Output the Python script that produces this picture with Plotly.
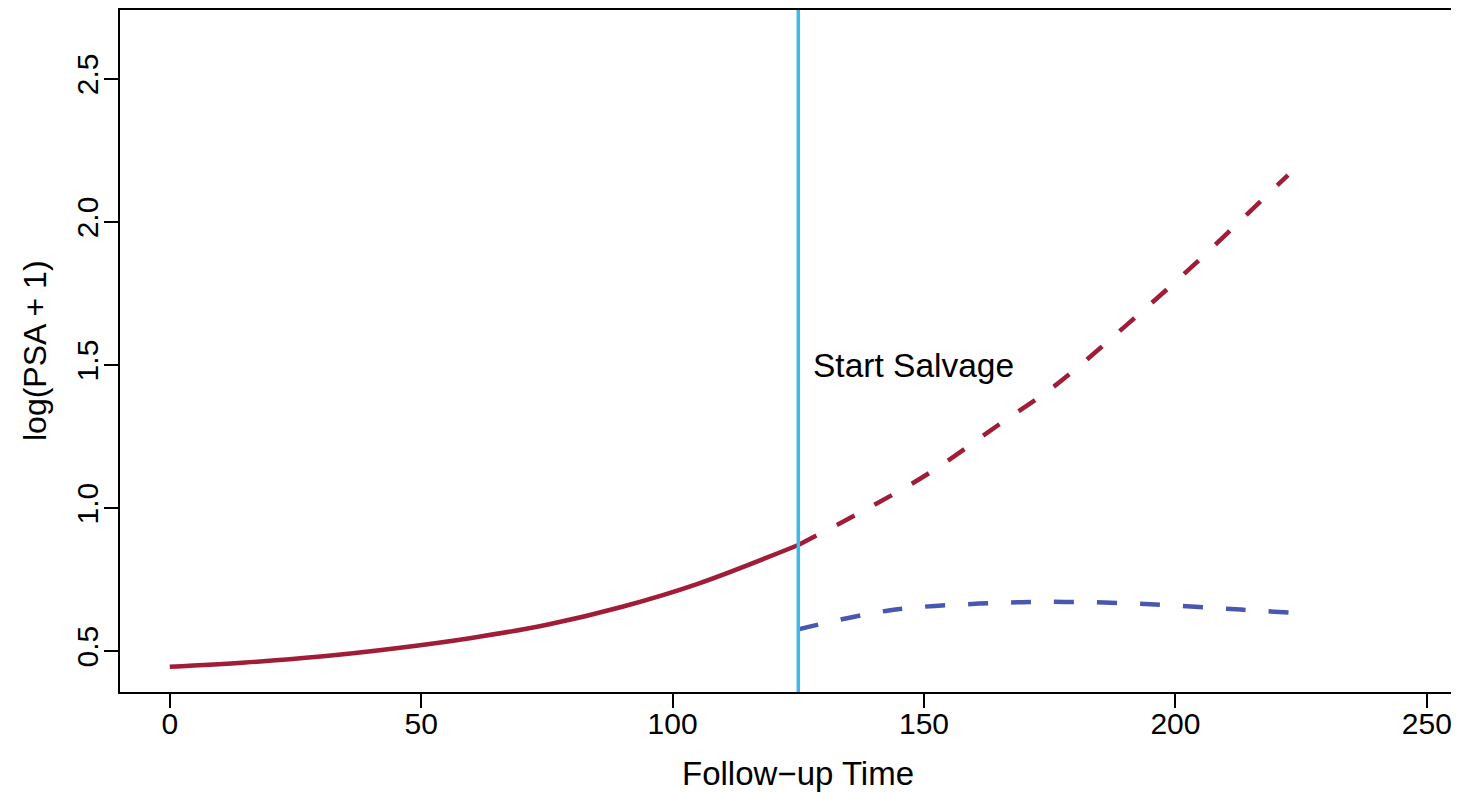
import plotly.graph_objects as go

# ---- data ----
pre_time = [0, 15, 30, 45, 60, 75, 90, 105, 125]
pre_psa = [0.445, 0.460, 0.481, 0.510, 0.546, 0.592, 0.655, 0.735, 0.871]

no_salvage_time = [125, 140, 151, 165, 176, 191, 204, 214, 222.4]
no_salvage_psa = [0.871, 1.010, 1.122, 1.293, 1.427, 1.651, 1.855, 2.023, 2.164]

salvage_time = [125, 143, 161, 178, 196, 213, 224]
salvage_psa = [0.576, 0.642, 0.666, 0.672, 0.663, 0.645, 0.633]

salvage_start = 125
annotation_text = "Start Salvage"
annotation_pos = (128.3, 1.5)

x_ticks = [0, 50, 100, 150, 200, 250]
y_ticks = [0.5, 1.0, 1.5, 2.0, 2.5]
x_range = [-9.9, 256.4]
y_range = [0.357, 2.741]
x_title_center = 125  # centre of the full (uncropped) x region

RED = "#A11C36"
BLUE = "#4857B0"
CYAN = "#3DBBE6"
FONT = "Liberation Sans, Arial, Helvetica, sans-serif"

fig = go.Figure()
fig.add_trace(go.Scatter(x=pre_time, y=pre_psa, mode="lines",
                         line=dict(color=RED, width=4.5, shape="spline"),
                         showlegend=False, hoverinfo="skip"))
fig.add_trace(go.Scatter(x=no_salvage_time, y=no_salvage_psa, mode="lines",
                         line=dict(color=RED, width=4.5, shape="spline", dash="20px,23px"),
                         showlegend=False, hoverinfo="skip"))
fig.add_trace(go.Scatter(x=salvage_time, y=salvage_psa, mode="lines",
                         line=dict(color=BLUE, width=4.5, shape="spline", dash="20px,23px"),
                         showlegend=False, hoverinfo="skip"))

fig.add_shape(type="line", xref="x", yref="paper", x0=salvage_start, x1=salvage_start,
              y0=0, y1=1, line=dict(color=CYAN, width=3.5), layer="above")

fig.add_annotation(x=annotation_pos[0], y=annotation_pos[1], text=annotation_text,
                   showarrow=False, xanchor="left", yanchor="middle", xshift=-4,
                   font=dict(family=FONT, size=33.5, color="black"))

# axis titles
fig.add_annotation(xref="x", yref="paper", x=x_title_center, y=0, yshift=-81,
                   text="Follow\u2212up Time", showarrow=False,
                   xanchor="center", yanchor="middle",
                   font=dict(family=FONT, size=33, color="black"))
fig.add_annotation(xref="paper", yref="paper", x=0, y=0.5, xshift=-85,
                   text="log(PSA + 1)", showarrow=False, textangle=-90,
                   xanchor="center", yanchor="middle",
                   font=dict(family=FONT, size=32, color="black"))

# page body has an 8px margin, so the figure is sized/margined to compensate
fig.update_layout(
    width=1451, height=785,
    margin=dict(l=112, r=0, t=2, b=101),
    paper_bgcolor="white", plot_bgcolor="white",
    font=dict(family=FONT, size=30, color="black"),
    showlegend=False,
)
fig.update_xaxes(range=x_range, tickvals=x_ticks, ticktext=[str(v) for v in x_ticks],
                 showgrid=False, zeroline=False, showline=True, linecolor="black",
                 linewidth=2, mirror=True, ticks="outside", ticklen=14, tickwidth=2,
                 tickcolor="black", tickfont=dict(size=30), automargin=False,
                 ticklabelstandoff=-10)
fig.update_yaxes(range=y_range, tickvals=y_ticks, ticktext=[f"{v:.1f}" for v in y_ticks],
                 showgrid=False, zeroline=False, showline=True, linecolor="black",
                 linewidth=2, mirror=False, ticks="outside", ticklen=14, tickwidth=2,
                 tickcolor="black", tickangle=-90, tickfont=dict(size=30), automargin=False,
                 ticklabelstandoff=-6)

fig.write_html("out.html")
